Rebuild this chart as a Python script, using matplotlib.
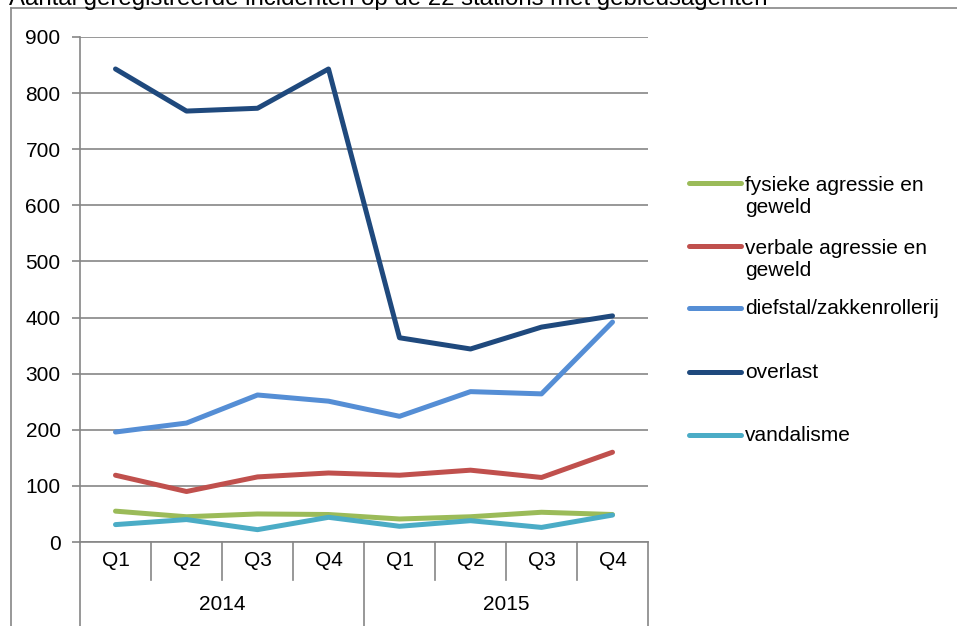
import matplotlib
matplotlib.use("Agg")
import matplotlib.pyplot as plt
from matplotlib.lines import Line2D

plt.rcParams['font.family'] = ['Liberation Sans', 'DejaVu Sans']

# data
quarters = ["Q1", "Q2", "Q3", "Q4", "Q1", "Q2", "Q3", "Q4"]
years = ["2014", "2015"]
fysiek = [55, 45, 50, 49, 41, 45, 53, 49]
verbaal = [119, 90, 116, 123, 119, 128, 115, 160]
diefstal = [196, 212, 262, 251, 224, 268, 264, 392]
overlast = [843, 768, 773, 843, 364, 344, 383, 403]
vandalisme = [31, 40, 22, 44, 28, 38, 26, 48]

series_names = ["fysieke agressie en\ngeweld", "verbale agressie en\ngeweld",
                "diefstal/zakkenrollerij", "overlast", "vandalisme"]
series_vals = [fysiek, verbaal, diefstal, overlast, vandalisme]
colors = ["#9BBB59", "#C0504D", "#558ED5", "#1F497D", "#4BACC6"]

W, H = 957, 626
fs = 15
fig = plt.figure(figsize=(W / 100, H / 100), dpi=100)

def fx(px):
    return px / W

def fy(py):
    return 1 - py / H

ax_l, ax_r, ax_t, ax_b = 80, 648, 37, 542
ax = fig.add_axes([fx(ax_l), fy(ax_b), fx(ax_r - ax_l), (ax_b - ax_t) / H])

grid_c = "#868686"
x = list(range(len(quarters)))
for vals, c in zip(series_vals, colors):
    ax.plot(x, vals, color=c, lw=3.6, solid_capstyle='round', solid_joinstyle='round', zorder=3)

ax.set_xlim(-0.5, len(quarters) - 0.5)
ax.set_ylim(0, 900)
ax.set_yticks(range(0, 901, 100))
ax.yaxis.grid(True, color=grid_c, lw=1.2)
ax.set_axisbelow(True)
for s in ["top", "right", "bottom"]:
    ax.spines[s].set_visible(False)
ax.spines["left"].set_color(grid_c)
ax.spines["left"].set_linewidth(1.2)
ax.tick_params(axis='y', length=6, color=grid_c, width=1.2, labelsize=fs, pad=8)
ax.tick_params(axis='x', length=0, labelbottom=False)

# category axis with grouped labels
tr = ax.get_xaxis_transform()
h = ax_b - ax_t
small = -(580 - ax_b) / h
big = -(626 - ax_b) / h
for i in range(len(quarters) + 1):
    xb = i - 0.5
    low = big if i % 4 == 0 else small
    ax.plot([xb, xb], [0, low], transform=tr, color=grid_c, lw=1.2, clip_on=False)
for i, q in enumerate(quarters):
    ax.text(i, -(561 - ax_b) / h, q, transform=tr, ha='center', va='center', fontsize=fs)
for j, yr in enumerate(years):
    ax.text(j * 4 + 1.5, -(605 - ax_b) / h, yr, transform=tr, ha='center', va='center', fontsize=fs)
ax.plot([-0.5, len(quarters) - 0.5], [0, 0], transform=tr, color=grid_c, lw=1.2, clip_on=False)

# legend (handle level with first text line)
leg_y = [183, 246, 308, 372, 435]
line_h = 24
for name, c, yy in zip(series_names, colors, leg_y):
    fig.add_artist(Line2D([fx(689), fx(741)], [fy(yy), fy(yy)], color=c, lw=3.6,
                          solid_capstyle='round'))
    n = name.count("\n")
    fig.text(fx(745), fy(yy + 6 + n * line_h), name, ha='left', va='baseline', fontsize=fs,
             linespacing=1.2)

# frame and cut title
fig.add_artist(Line2D([fx(11), fx(11)], [fy(8), 0], color=grid_c, lw=1.2))
fig.add_artist(Line2D([fx(11), 1], [fy(8), fy(8)], color=grid_c, lw=1.2))
fig.text(fx(9), fy(4.5), "Aantal geregistreerde incidenten op de 22 stations met gebiedsagenten",
         ha='left', va='baseline', fontsize=17.3)

fig.savefig("out.png", dpi=100)
